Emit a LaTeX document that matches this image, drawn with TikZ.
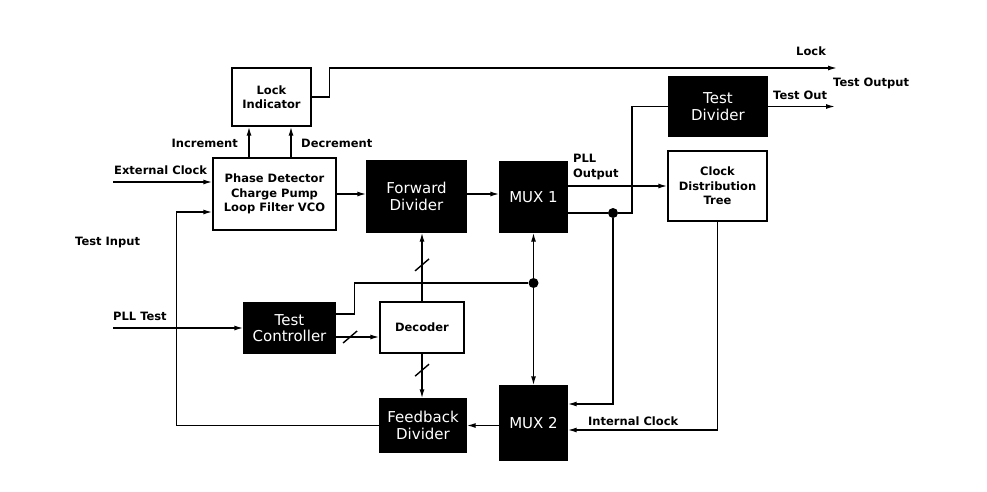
\documentclass[tikz,border=0pt]{standalone}
\usepackage{fontspec}
\setmainfont{DejaVu Sans}
\usetikzlibrary{arrows.meta,positioning,calc}

\tikzset{
  >={Latex[length=9pt,width=5pt]},
  wbox/.style={draw, line width=1.4pt, fill=white, align=center, font=\fontsize{11.5}{14.5}\selectfont\bfseries, inner sep=0pt},
  bbox/.style={draw, line width=1.4pt, fill=black, text=white, align=center, font=\fontsize{15}{16.5}\selectfont, inner sep=0pt},
  lbl/.style={font=\fontsize{11.5}{14.5}\selectfont\bfseries, inner sep=0pt},
  wire/.style={line width=1.4pt},
  junction/.style={circle, fill=black, minimum size=10pt, inner sep=0pt}
}
\newcommand{\busmark}[1]{\draw[wire] (#1) ++(-7,6) -- ++(14,-12);}

\begin{document}
\begin{tikzpicture}[x=1pt,y=-1pt]
\useasboundingbox (0,0) rectangle (987,492);

% PLL core
\node[wbox, minimum width=79pt, minimum height=58pt] (lock) at (271.5,97) {Lock\\Indicator};
\node[wbox, minimum width=123pt, minimum height=72pt] (pd) at (274.5,194) {Phase Detector\\Charge Pump\\Loop Filter VCO};
\node[bbox, minimum width=99pt, minimum height=71pt] (fwd) at (416.5,196.5) {Forward\\Divider};
\node[bbox, minimum width=67pt, minimum height=70pt] (mux1) at (533.5,197) {MUX 1};
\node[bbox, minimum width=98pt, minimum height=59pt] (tdiv) at (718,106.5) {Test\\Divider};
\node[wbox, minimum width=99pt, minimum height=70pt] (cdt) at (717.5,186) {Clock\\Distribution\\Tree};

% test logic
\node[bbox, minimum width=91pt, minimum height=50pt] (tctl) at (289.5,328) {Test\\Controller};
\node[wbox, minimum width=84pt, minimum height=51pt] (dec) at (422,327.5) {Decoder};
\node[bbox, minimum width=86pt, minimum height=53pt] (fbk) at (423,425.5) {Feedback\\Divider};
\node[bbox, minimum width=67pt, minimum height=74pt] (mux2) at (533.5,423) {MUX 2};

% junctions and free ends
\node[junction] (j1) at (613,213) {};
\node[junction] (j2) at (533.5,283) {};
\coordinate (ext) at (113,182);
\coordinate (plltst) at (113,328);
\coordinate (lockout) at (837,68);
\coordinate (testout) at (835,106.5);

% wires
\draw[wire,->] (ext) -- (ext -| pd.west);
\draw[wire,->] ([xshift=-25.5pt]pd.north) -- ([xshift=-25.5pt]pd.north |- lock.south);
\draw[wire,->] ([xshift=16.5pt]pd.north) -- ([xshift=16.5pt]pd.north |- lock.south);
\draw[wire,->] (lock.east) -- ++(18,0) |- (lockout);
\draw[wire,->] (pd.east) -- (pd.east -| fwd.west);
\draw[wire,->] (pd.east -| fwd.east) -- (pd.east -| mux1.west);
\draw[wire,->] (mux1.east |- cdt.west) -- (cdt.west);
\draw[wire] (mux1.east |- j1) -- (j1);
\draw[wire] (j1) -- ++(19,0) |- (tdiv.west);
\draw[wire,->] (tdiv.east) -- (testout);
\draw[wire,->] (j1) |- ([yshift=19pt]mux2.east);
\draw[wire,->] (cdt.south) |- ([yshift=-7pt]mux2.east);
\draw[wire,->] (mux2.west |- fbk.east) -- (fbk.east);
\draw[wire,->] (fbk.west) -| ([xshift=-36pt,yshift=-18pt]pd.west) -- ([yshift=-18pt]pd.west);
\draw[wire,->] (plltst) -- (tctl.west);
\draw[wire] ([yshift=14pt]tctl.east) -- ++(19,0) |- (j2);
\draw[wire,<->] (mux1.south) -- (mux2.north);

% buses
\draw[wire,->] ([yshift=-9pt]tctl.east) -- coordinate[pos=0.33] (b1) ([yshift=-9pt]tctl.east -| dec.west);
\draw[wire,->] (dec.north) -- coordinate[pos=0.53] (b2) (dec.north |- fwd.south);
\draw[wire,->] (dec.south) -- coordinate[pos=0.37] (b3) (dec.south |- fbk.north);
\busmark{b1} \busmark{b2} \busmark{b3}

% labels
\node[lbl, anchor=west] (extl) at (114,170) {External Clock};
\node[lbl, anchor=east] (incl) at (238,143) {Increment};
\node[lbl, anchor=west] (decl) at (301,143) {Decrement};
\node[lbl, anchor=west] (lockl) at (796,51) {Lock};
\node[lbl, anchor=west] (tol) at (833,83) {Test Output};
\node[lbl, anchor=west] (toutl) at (773,95) {Test Out};
\node[lbl, anchor=west, align=left] (pllo) at (573,167) {PLL\\Output};
\node[lbl, anchor=west] (intl) at (588,421) {Internal Clock};
\node[lbl, anchor=west] (til) at (75,243) {Test Input};
\node[lbl, anchor=west] (pllt) at (113,316) {PLL Test};
\end{tikzpicture}
\end{document}
